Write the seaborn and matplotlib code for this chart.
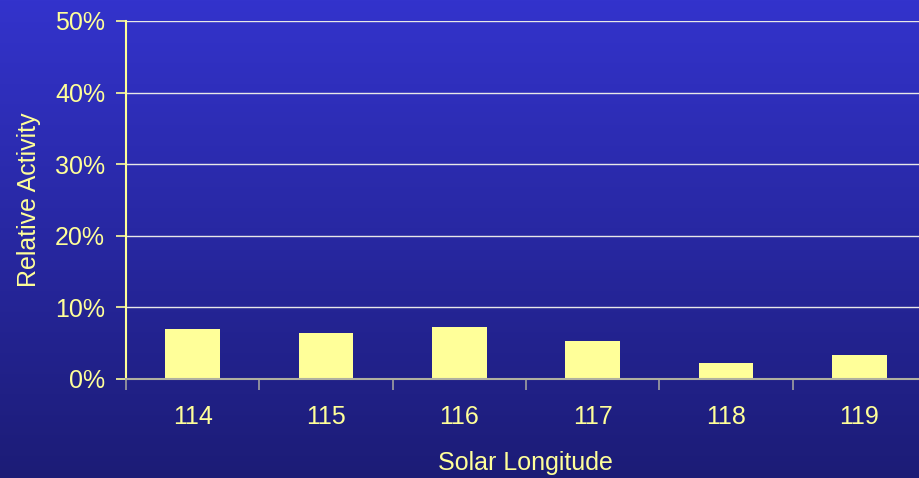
import seaborn as sns
import pandas as pd
import numpy as np
import matplotlib.pyplot as plt
from matplotlib.colors import LinearSegmentedColormap
from matplotlib.ticker import PercentFormatter

# veri
longitudes = ["114", "115", "116", "117", "118", "119"]
activity = [7.0, 6.4, 7.3, 5.3, 2.2, 3.4]

df = pd.DataFrame({"lon": longitudes, "act": activity})

sns.set_style("white")
plt.rcParams["font.family"] = ["Liberation Sans", "DejaVu Sans"]

txt = "#ffff99"
fig = plt.figure(figsize=(9.19, 4.78), dpi=100)

# arka plan gradyani
bg = fig.add_axes([0, 0, 1, 1], zorder=-1)
cmap = LinearSegmentedColormap.from_list("bg", ["#3333cc", "#1c1c76"])
bg.imshow(np.linspace(0, 1, 256).reshape(-1, 1), aspect="auto", cmap=cmap,
          extent=[0, 1, 0, 1])
bg.axis("off")

# grafik alani (sag tarafta kesiliyor)
ax = fig.add_axes([126 / 919, 99 / 478, 800 / 919, 358 / 478])
ax.patch.set_alpha(0)
sns.barplot(data=df, x="lon", y="act", color="#ffff99", width=0.41,
            saturation=1, edgecolor="none", linewidth=0, ax=ax)

ax.set_ylim(0, 50)
ax.set_xlim(-0.5, 5.5)
ax.set_yticks(range(0, 51, 10))
ax.yaxis.set_major_formatter(PercentFormatter(decimals=0))
ax.yaxis.grid(True, color="#e8e8e8", linewidth=1)
ax.set_axisbelow(True)

for s in ["top", "right"]:
    ax.spines[s].set_visible(False)
ax.spines["left"].set_color("#ffff99")
ax.spines["left"].set_linewidth(1.5)
ax.spines["bottom"].set_color("#b0b0a0")
ax.spines["bottom"].set_linewidth(1.5)

ax.set_xticks(np.arange(-0.5, 6, 1), minor=False)
ax.set_xticklabels([])
ax.set_xticks(range(6), minor=True)
ax.set_xticklabels(longitudes, minor=True)
ax.tick_params(axis="x", which="major", bottom=True, direction="out",
               length=8, color="#a0a0a0", width=1.2)
ax.tick_params(axis="x", which="minor", bottom=True, length=0, pad=19,
               labelsize=18, labelcolor=txt)
ax.tick_params(axis="y", left=True, direction="out", length=7,
               color="#ffff99", width=1.2, labelsize=18, labelcolor=txt,
               pad=8)

ax.set_xlabel("Solar Longitude", fontsize=18, color=txt)
ax.set_ylabel("Relative Activity", fontsize=18, color=txt, labelpad=10)
ax.xaxis.set_label_coords((525 - 126) / 800, -0.2)

fig.savefig("out.png", dpi=100)
